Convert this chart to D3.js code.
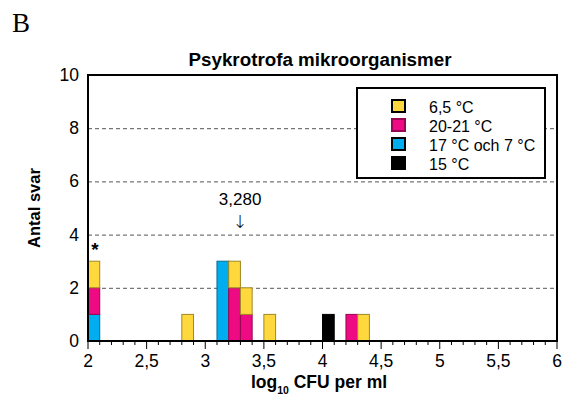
<!DOCTYPE html>
<html>
<head>
<meta charset="utf-8">
<script src="https://cdn.jsdelivr.net/npm/d3@7"></script>
<style>
  body { margin: 0; background: #fff; }
  svg { font-family: "Liberation Sans", Arial, sans-serif; }
</style>
</head>
<body>
<div id="chart"></div>
<script>
// bin start values (log10 CFU per ml), bins are 0.1 wide
const binStarts = [2.0, 2.8, 3.1, 3.2, 3.3, 3.5, 4.0, 4.2, 4.3];
// counts per temperature series for each bin
const blue17 = [1, 0, 3, 0, 0, 0, 0, 0, 0];
const pink20 = [1, 0, 0, 2, 1, 0, 0, 1, 0];
const yellow65 = [1, 1, 0, 1, 1, 1, 0, 0, 1];
const black15 = [0, 0, 0, 0, 0, 0, 1, 0, 0];

const seriesKeys = ["blue", "pink", "yellow", "black"];
const seriesLabels = { yellow: "6,5 °C", pink: "20-21 °C", blue: "17 °C och 7 °C", black: "15 °C" };
const legendOrder = ["yellow", "pink", "blue", "black"];
const colors = { yellow: "#ffd83d", pink: "#ee0a82", blue: "#00aeef", black: "#000000" };

const xTicks = [2, 2.5, 3, 3.5, 4, 4.5, 5, 5.5, 6];
const yTicks = [0, 2, 4, 6, 8, 10];
const medianValue = 3.28;

const W = 567, H = 398;
const margin = { top: 75, right: 10, bottom: 57, left: 88 };

const svg = d3.select("#chart").append("svg")
  .attr("width", W).attr("height", H);

const x = d3.scaleLinear().domain([2, 6]).range([margin.left, W - margin.right]);
const y = d3.scaleLinear().domain([0, 10]).range([H - margin.bottom, margin.top]);

// panel letter
svg.append("text").attr("x", 12).attr("y", 32)
  .style("font-family", "'Liberation Serif', 'Times New Roman', serif")
  .style("font-size", "27px").text("B");

// title
svg.append("text").attr("x", 320).attr("y", 66)
  .attr("text-anchor", "middle").style("font-size", "18.8px").style("font-weight", "bold")
  .text("Psykrotrofa mikroorganismer");

// dashed grid lines
svg.append("g").selectAll("line").data(yTicks.filter(d => d > 0 && d < 10))
  .join("line")
  .attr("x1", x(2)).attr("x2", x(6))
  .attr("y1", d => y(d) + 0.5).attr("y2", d => y(d) + 0.5)
  .attr("stroke", "#555").attr("stroke-width", 1).attr("stroke-dasharray", "4,3");

// stacked bars
const rows = binStarts.map((b, i) => ({
  bin: b, blue: blue17[i], pink: pink20[i], yellow: yellow65[i], black: black15[i]
}));
const stacked = d3.stack().keys(seriesKeys)(rows);
const binW = 0.1;

svg.append("g").selectAll("g").data(stacked).join("g")
  .attr("fill", d => colors[d.key])
  .attr("stroke", d => d.key === "black" ? "#000" : d3.color(colors[d.key]).darker(1.3))
  .selectAll("rect").data(d => d.filter(s => s[1] > s[0]))
  .join("rect")
  .attr("x", d => x(d.data.bin))
  .attr("width", x(2 + binW) - x(2))
  .attr("y", d => y(d[1]))
  .attr("height", d => y(d[0]) - y(d[1]))
  .attr("stroke-width", 1);

// asterisk over first bin
svg.append("text").attr("x", x(2.05) + 1).attr("y", 256)
  .attr("text-anchor", "middle").style("font-size", "19px").style("font-weight", "bold")
  .text("*");

// median annotation
svg.append("text").attr("x", x(medianValue) + 2).attr("y", 205)
  .attr("text-anchor", "middle").style("font-size", "17px").text("3,280");
svg.append("text").attr("x", x(medianValue) + 2).attr("y", 228)
  .attr("text-anchor", "middle")
  .style("font-family", "'DejaVu Sans', sans-serif").style("font-size", "18px")
  .style("font-weight", "200").text("↓");

// frame
svg.append("rect")
  .attr("x", x(2)).attr("y", y(10))
  .attr("width", x(6) - x(2)).attr("height", y(0) - y(10))
  .attr("fill", "none").attr("stroke", "#000").attr("stroke-width", 2);

// x axis ticks: minor every 0.1, major every 0.5
const minor = d3.range(0, 41).map(i => 2 + i * 0.1);
svg.append("g").selectAll("line").data(minor).join("line")
  .attr("x1", d => x(d)).attr("x2", d => x(d))
  .attr("y1", y(0)).attr("y2", (d, i) => y(0) + (i % 5 === 0 ? 8 : 4))
  .attr("stroke", "#000").attr("stroke-width", 1);

svg.append("g").selectAll("text").data(xTicks).join("text")
  .attr("x", d => x(d)).attr("y", 367)
  .attr("text-anchor", "middle").style("font-size", "17.5px")
  .text(d => String(d).replace(".", ","));

// y tick labels
svg.append("g").selectAll("text").data(yTicks).join("text")
  .attr("x", x(2) - 9).attr("y", d => y(d) + 6)
  .attr("text-anchor", "end").style("font-size", "17.5px")
  .text(d => d);

// axis titles
svg.append("text")
  .attr("transform", `translate(40,${(y(0) + y(10)) / 2}) rotate(-90)`)
  .attr("text-anchor", "middle").style("font-size", "16.5px").style("font-weight", "bold")
  .text("Antal svar");

const xl = svg.append("text").attr("x", 319).attr("y", 388)
  .attr("text-anchor", "middle").style("font-size", "17.5px").style("font-weight", "bold");
xl.append("tspan").text("log");
xl.append("tspan").attr("dy", 6).style("font-size", "10.5px").text("10");
xl.append("tspan").attr("dy", -6).text(" CFU per ml");

// legend
const lg = svg.append("g");
lg.append("rect").attr("x", 357).attr("y", 88).attr("width", 188).attr("height", 90)
  .attr("fill", "#fff").attr("stroke", "#000").attr("stroke-width", 2);
const items = lg.selectAll("g.item").data(legendOrder).join("g")
  .attr("class", "item")
  .attr("transform", (d, i) => `translate(0,${100 + i * 19})`);
items.append("rect").attr("x", 392).attr("y", 0).attr("width", 13).attr("height", 12)
  .attr("fill", d => colors[d])
  .attr("stroke", d => d === "pink" ? d3.color(colors.pink).darker(1.3) : "#000")
  .attr("stroke-width", 2);
items.append("text").attr("x", 429).attr("y", 12.5)
  .style("font-size", "16px").text(d => seriesLabels[d]);
</script>
</body>
</html>
